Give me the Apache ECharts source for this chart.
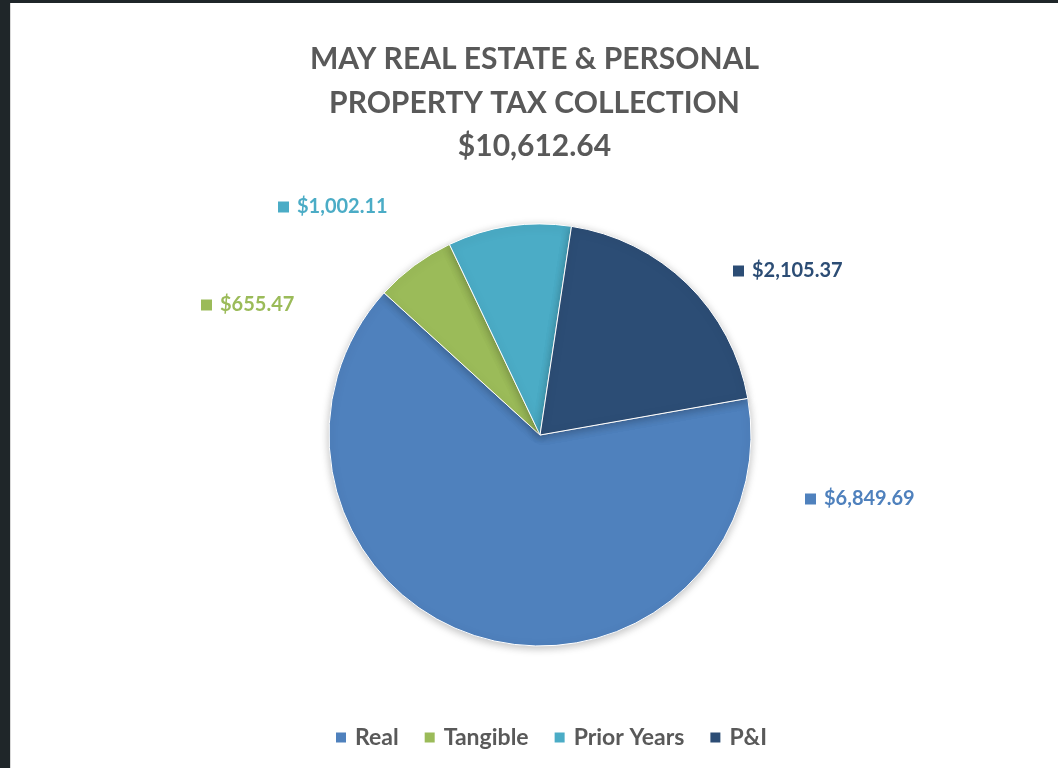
<!DOCTYPE html>
<html>
<head>
<meta charset="utf-8">
<title>May Real Estate & Personal Property Tax Collection</title>
<script src="https://cdn.jsdelivr.net/npm/echarts@6/dist/echarts.min.js"></script>
<style>
	html, body { margin: 0; padding: 0; background: #1f2629; }
	#main { position: absolute; left: 10px; top: 3px; width: 1048px; height: 765px; background: #fff; border-left: 1px solid #d9d9d9; box-sizing: border-box; }
</style>
</head>
<body>
<div id="main"></div>
<script>
	var categories = ['Real', 'Tangible', 'Prior Years', 'P&I'];
	var amounts = [6849.69, 655.47, 1002.11, 2105.37];
	var totalText = '$10,612.64';
	var colors = ['#4f81bd', '#9bbb59', '#4bacc6', '#2c4d75'];

	// where Excel put each data label (left edge of marker, vertical centre)
	var labelSpots = [[794, 496], [190, 302], [267, 204], [722, 268]];

	var fontFamily = 'Lato, "Open Sans", sans-serif';
	var myChart = echarts.init(document.getElementById('main'));

	function money(v) {
		return '$' + v.toLocaleString('en-US', { minimumFractionDigits: 2, maximumFractionDigits: 2 });
	}

	var rich = {};
	var pieData = [];
	for (var i = 0; i < categories.length; i++) {
		rich['sq' + i] = { width: 11, height: 11, backgroundColor: colors[i] };
		rich['t' + i] = { color: colors[i], fontSize: 20, fontWeight: 'bold', fontFamily: fontFamily, padding: [0, 0, 0, 8] };
		pieData.push({ name: categories[i], value: amounts[i], itemStyle: { color: colors[i] } });
	}

	var option = {
		animation: false,
		title: {
			text: 'MAY REAL ESTATE & PERSONAL\nPROPERTY TAX COLLECTION\n' + totalText,
			left: 'center',
			top: 30,
			textStyle: {
				color: '#595959',
				fontSize: 30,
				fontWeight: 'bold',
				fontFamily: fontFamily,
				lineHeight: 43.5
			}
		},
		legend: {
			bottom: 14,
			left: 318,
			icon: 'rect',
			itemWidth: 12,
			itemHeight: 12,
			itemGap: 24,
			textStyle: {
				color: '#595959',
				fontSize: 23,
				fontWeight: 'bold',
				fontFamily: fontFamily,
				padding: [0, 0, 0, 3]
			},
			data: categories
		},
		series: [
			{
				name: 'Collection',
				type: 'pie',
				center: [529, 432],
				radius: 211,
				startAngle: 10,
				clockwise: true,
				data: pieData,
				itemStyle: {
					borderColor: '#fff',
					borderWidth: 1,
					shadowBlur: 8,
					shadowOffsetY: 2,
					shadowColor: 'rgba(0, 0, 0, 0.25)'
				},
				label: {
					show: true,
					position: 'outside',
					formatter: function (p) {
						return '{sq' + p.dataIndex + '|}{t' + p.dataIndex + '|' + money(p.value) + '}';
					},
					rich: rich
				},
				labelLine: { show: false },
				labelLayout: function (p) {
					var s = labelSpots[p.dataIndex];
					return { x: s[0], y: s[1], align: 'left', verticalAlign: 'middle' };
				},
				emphasis: { scale: false }
			}
		]
	};

	myChart.setOption(option);
</script>
</body>
</html>
